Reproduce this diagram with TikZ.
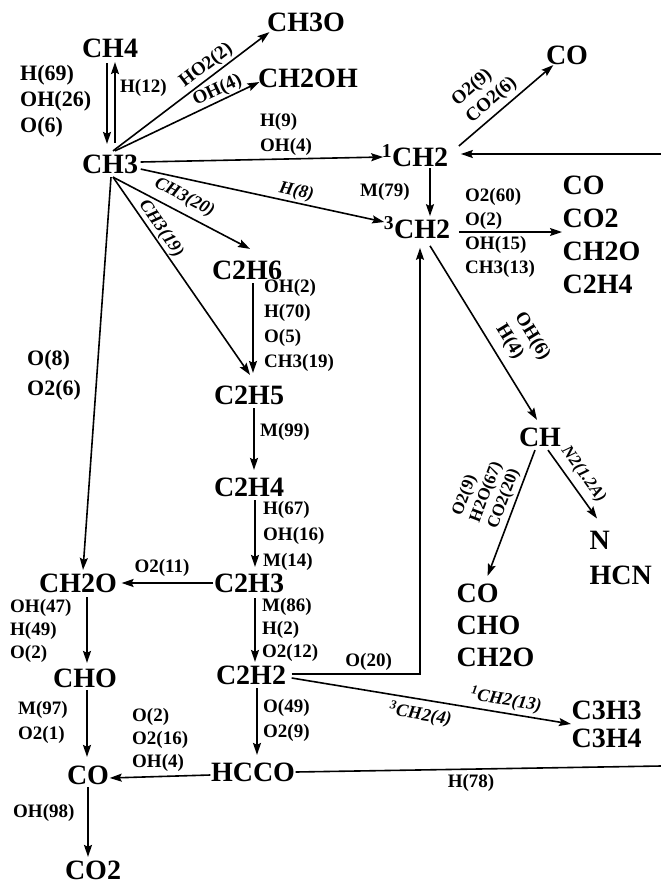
\documentclass[tikz,border=0pt]{standalone}
\usepackage{fontspec}
\setmainfont{Liberation Serif}
\usetikzlibrary{arrows.meta}
\begin{document}
\begin{tikzpicture}[x=1pt,y=-1pt,
  sp/.style={font=\fontsize{28}{32}\selectfont\bfseries, inner sep=0.5pt},
  spl/.style={sp, align=left, anchor=west, font=\fontsize{28}{#1}\selectfont\bfseries},
  lb/.style={font=\fontsize{19}{#1}\selectfont\bfseries, inner sep=0pt, align=left, anchor=west},
  lb/.default=24,
  lbL/.style={font=\fontsize{22}{#1}\selectfont\bfseries, inner sep=0pt, align=left, anchor=west},
  lbL/.default=26,
  sl/.style={font=\fontsize{19}{#1}\selectfont\bfseries, inner sep=0pt, align=left, sloped},
  sl/.default=22,
  sli/.style={font=\fontsize{18}{21}\selectfont\bfseries\itshape, inner sep=0pt, sloped},
  ar/.style={line width=1.6pt, -{Stealth[length=12pt,width=8pt,inset=2pt]}},
  ln/.style={line width=1.6pt}
]
\useasboundingbox (0,0) rectangle (661,884);

% species
\node[sp] (CH4) at (110,48) {CH4};
\node[sp] (CH3O) at (306,22) {CH3O};
\node[sp] (CH2OH) at (308,78) {CH2OH};
\node[sp] (CH3) at (110,164) {CH3};
\node[sp] (sCH2) at (415,156) {\textsuperscript{1}CH2};
\node[sp] (COa) at (567,55) {CO};
\node[sp] (tCH2) at (417,228) {\textsuperscript{3}CH2};
\node[spl=33] (prodA) at (562,235) {CO\\CO2\\CH2O\\C2H4};
\node[sp] (C2H6) at (247,270) {C2H6};
\node[sp] (C2H5) at (249,395) {C2H5};
\node[sp] (C2H4) at (249,487) {C2H4};
\node[sp] (C2H3) at (249,583) {C2H3};
\node[sp] (C2H2) at (251,675) {C2H2};
\node[sp] (HCCO) at (253,772) {HCCO};
\node[sp] (CH2O) at (78,583) {CH2O};
\node[sp] (CHO) at (85,678) {CHO};
\node[sp] (CO) at (88,775) {CO};
\node[sp] (CO2) at (93,870) {CO2};
\node[sp] (CH) at (540,437) {CH};
\node[spl=35] (NHCN) at (589,558) {N\\HCN};
\node[spl=32] (prodB) at (456,625) {CO\\CHO\\CH2O};
\node[spl=28] (C3) at (571,724) {C3H3\\C3H4};

\coordinate (RA) at (661,154);
\coordinate (RB) at (661,766);

% labels placed freely
\node[lbL=26] (l1) at (20,101) {H(69)\\OH(26)\\O(6)};
\node[lb] (l2) at (120,88) {H(12)};
\node[lb=25] (l3) at (260,134) {H(9)\\OH(4)};
\node[lb, anchor=center] (l4) at (385,192) {M(79)};
\node[lb=24] (l5) at (465,233) {O2(60)\\O(2)\\OH(15)\\CH3(13)};
\node[lbL=30] (l6) at (27,375) {O(8)\\O2(6)};
\node[lb=25] (l7) at (264,325) {OH(2)\\H(70)\\O(5)\\CH3(19)};
\node[lb] (l8) at (260,432) {M(99)};
\node[lb=26] (l9) at (263,536) {H(67)\\OH(16)\\M(14)};
\node[lb, anchor=center] (l10) at (162,568) {O2(11)};
\node[lb=23] (l11) at (262,630) {M(86)\\H(2)\\O2(12)};
\node[lb=23] (l12) at (10,631) {OH(47)\\H(49)\\O(2)};
\node[lb=25] (l13) at (18,722) {M(97)\\O2(1)};
\node[lb=23] (l14) at (132,740) {O(2)\\O2(16)\\OH(4)};
\node[lb=25] (l15) at (263,720) {O(49)\\O2(9)};
\node[lb] (l16) at (13,813) {OH(98)};

% connectors
\draw[ar, shorten <=5pt, shorten >=10pt] ([xshift=-3pt]CH4.south) -- ([xshift=-3pt]CH4.south |- CH3.north);
\draw[ar, shorten <=11pt, shorten >=4pt] ([xshift=5pt]CH3.north) -- ([xshift=5pt]CH3.north |- CH4.south);
\draw[ar] ([xshift=3pt,yshift=3pt]CH3.north) -- node[sl, above=2pt, pos=.64] {HO2(2)} ([xshift=3pt]CH3O.south west);
\draw[ar] ([xshift=5pt,yshift=3pt]CH3.north) -- node[sl, above=1pt, pos=.74] {OH(4)} ([xshift=2pt,yshift=-4pt]CH2OH.west);
\draw[ar] ([xshift=2pt,yshift=2pt]CH3.east) -- ([xshift=2pt,yshift=-1pt]sCH2.west);
\draw[ar] ([xshift=2pt]CH3.-10) -- node[sli, above=2pt, pos=.63] {H(8)} ([xshift=1pt,yshift=6pt]tCH2.west);
\draw[ar] ([xshift=3pt,yshift=-3pt]CH3.south) -- node[sli, above=6pt, pos=.47] {CH3(20)} ([xshift=3pt,yshift=11pt]C2H6.north);
\draw[ar] ([xshift=3pt,yshift=-3pt]CH3.south) -- node[sli, above=1pt, pos=.29] {CH3(19)} ([xshift=1pt,yshift=10pt]C2H5.north);
\draw[ar] ([xshift=1pt,yshift=-3pt]CH3.south) -- ([xshift=5pt,yshift=3pt]CH2O.north);
\draw[ar, shorten <=3pt, shorten >=12pt] ([xshift=6pt]C2H6.south) -- ([xshift=6pt]C2H6.south |- C2H5.north);
\draw[ar, shorten <=3pt, shorten >=7pt] ([xshift=5pt]C2H5.south) -- ([xshift=5pt]C2H5.south |- C2H4.north);
\draw[ar, shorten <=3pt, shorten >=6pt] ([xshift=6pt]C2H4.south) -- ([xshift=6pt]C2H4.south |- C2H3.north);
\draw[ar, shorten <=5pt, shorten >=3pt] ([xshift=6pt]C2H3.south) -- ([xshift=6pt]C2H3.south |- C2H2.north);
\draw[ar, shorten <=3pt, shorten >=7pt] ([xshift=6pt]C2H2.south) -- ([xshift=6pt]C2H2.south |- HCCO.north);
\draw[ar, shorten >=4pt] (C2H3.west) -- (CH2O.east);
\draw[ar, shorten <=4pt, shorten >=5pt] ([xshift=9pt]CH2O.south) -- ([xshift=9pt]CH2O.south |- CHO.north);
\draw[ar, shorten <=2pt, shorten >=8pt] ([xshift=2pt]CHO.south) -- ([xshift=2pt]CHO.south |- CO.north);
\draw[ar, shorten <=2pt, shorten >=3pt] (CO.south) -- (CO.south |- CO2.north);
\draw[ar] ([yshift=-3pt]HCCO.west) -- ([yshift=-3pt]CO.east);
\draw[ln] (HCCO.east) -- node[lb, below=4pt, pos=.48] {H(78)} (RB);
\draw[ar, shorten >=12pt] (RA) -- (RA -| sCH2.east);
\draw[ar] ([xshift=10pt,yshift=10pt]sCH2.east) -- node[sl=22, above=4pt, pos=.44] {O2(9)\\CO2(6)} ([xshift=8pt]COa.south west);
\draw[ar] ([xshift=15pt]sCH2.south) -- ([xshift=15pt]sCH2.south |- tCH2.north);
\draw[ar] ([xshift=8pt,yshift=-4pt]tCH2.east) -- ([yshift=-4pt]tCH2.east -| prodA.west);
\draw[ar] ([xshift=13pt,yshift=-6pt]tCH2.south) -- node[sl=22, above=8pt, pos=.64] {OH(6)\\H(4)} ([xshift=-3pt,yshift=7pt]CH.north);
\draw[ar, shorten >=8pt] ([xshift=5pt,yshift=1pt]C2H2.east) -| node[lb, anchor=south, pos=.3, yshift=3pt] {O(20)} ([xshift=3pt]tCH2.south);
\draw[ar] ([xshift=5pt,yshift=-3pt]C2H2.east) -- node[sli, above=3pt, pos=.76] {\textsuperscript{1}CH2(13)} node[sli, below=5pt, pos=.47] {\textsuperscript{3}CH2(4)} (C3.west);
\draw[ar] ([xshift=-5pt,yshift=-3pt]CH.south) -- node[sl, font=\fontsize{17}{19}\selectfont\bfseries, above=3pt, pos=.42] {O2(9)\\H2O(67)\\CO2(20)} ([xshift=-8pt,yshift=7pt]prodB.north);
\draw[ar] ([xshift=8pt,yshift=-3pt]CH.south) -- node[sli, font=\fontsize{17}{20}\selectfont\bfseries\itshape, above=6pt, pos=.48] {N2(1.2A)} ([xshift=8pt,yshift=12pt]NHCN.north west);
\end{tikzpicture}
\end{document}
